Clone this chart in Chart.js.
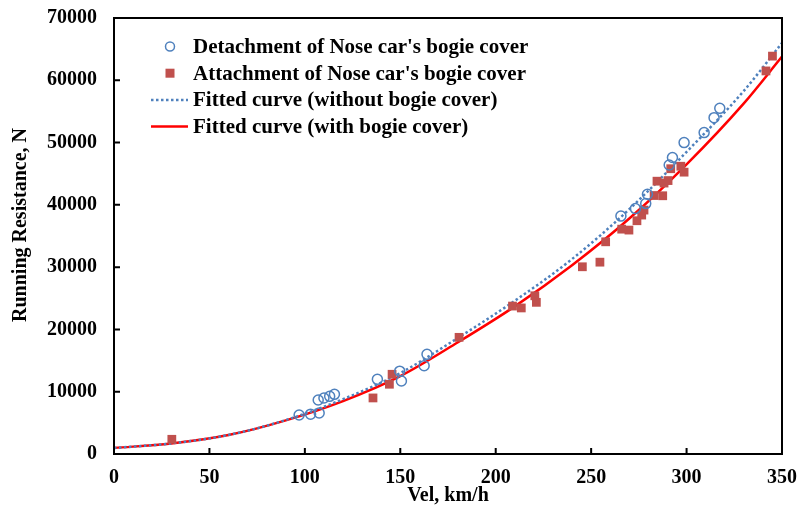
<!DOCTYPE html>
<html>
<head>
<meta charset="utf-8">
<script src="https://cdn.jsdelivr.net/npm/chart.js@4.4.1/dist/chart.umd.min.js"></script>
<style>
  html, body { margin: 0; padding: 0; background: #fff; }
</style>
</head>
<body>
<canvas id="myChart" width="798" height="516"></canvas>
<script>
// points mesures, cache-bogie retire (cercles)
const velDetach = [97, 103, 107.5, 107, 110, 113, 115.5, 138, 149.7, 150.6, 162.5, 164,
                   265.6, 273.2, 278.6, 279.5, 290.9, 292.6, 298.7, 309.2, 314.4, 317.4];
const resDetach = [6260, 6400, 6580, 8670, 8990, 9260, 9580, 11990, 13300, 11720, 14170, 16000,
                   38200, 39400, 40200, 41700, 46400, 47600, 50000, 51600, 54000, 55500];

// points mesures, cache-bogie en place (carres)
const velAttach = [30.3, 135.7, 144.3, 145.7, 180.8, 208.8, 213.4, 220.5, 221.3, 245.4, 254.6, 257.6,
                   266, 269.8, 274, 276.5, 277.7, 283, 287.5, 284.5, 288.2, 290.3, 291.7, 297, 298.7,
                   341.6, 345];
const resAttach = [2360, 9000, 11200, 12800, 18730, 23750, 23450, 25400, 24350, 30060, 30800, 34070,
                   36100, 35950, 37450, 38360, 39160, 41500, 41460, 43800, 43500, 43900, 45800, 46200, 45250,
                   61500, 63880];

// courbes ajustees
const fitVel = [0, 30, 60, 90, 120, 150, 180, 210, 240, 270, 300, 330, 350];
const fitWithout = [960, 1700, 3050, 5450, 8800, 13000, 18600, 24600, 31300, 39300, 48500, 58300, 66000];
const fitWith = [960, 1700, 3050, 5400, 8500, 12500, 17900, 23700, 30300, 37800, 46500, 56300, 63800];

const labels = [
  "Detachment of Nose car's bogie cover",
  "Attachment of Nose car's bogie cover",
  'Fitted curve (without bogie cover)',
  'Fitted curve (with bogie cover)'
];
const yTitle = 'Running Resistance, N';

const BLUE = '#4F81BD';
const DARKRED = '#C0504D';
const FONT = "'Liberation Serif', 'Times New Roman', serif";

const toXY = (xs, ys) => xs.map((v, i) => ({ x: v, y: ys[i] }));

// cadre + graduations vers l'interieur + legende dans la zone du graphe
const framePlugin = {
  id: 'frame',
  afterDraw(chart) {
    const { ctx, chartArea: a, scales } = chart;
    ctx.save();
    ctx.strokeStyle = '#000';
    ctx.lineWidth = 2;
    ctx.strokeRect(a.left, a.top, a.right - a.left, a.bottom - a.top);
    ctx.beginPath();
    scales.x.ticks.forEach(t => {
      const px = scales.x.getPixelForValue(t.value);
      ctx.moveTo(px, a.bottom); ctx.lineTo(px, a.bottom - 6);
    });
    scales.y.ticks.forEach(t => {
      const py = scales.y.getPixelForValue(t.value);
      ctx.moveTo(a.left, py); ctx.lineTo(a.left + 6, py);
    });
    ctx.stroke();

    ctx.font = 'bold 20px ' + FONT;
    ctx.fillStyle = '#000';
    ctx.textAlign = 'center';
    ctx.textBaseline = 'middle';
    // titre axe y (un peu au-dessus du centre, comme l'original)
    ctx.save();
    ctx.translate(21, (a.top + a.bottom) / 2 - 11);
    ctx.rotate(-Math.PI / 2);
    ctx.fillText(yTitle, 0, 0);
    ctx.restore();

    // legende
    const ds = chart.data.datasets;
    const sx = a.left + 56, tx = a.left + 79;
    let y = a.top + 28.5;
    ctx.font = 'bold 21px ' + FONT;
    ctx.textAlign = 'left';
    ds.forEach((d, i) => {
      ctx.save();
      if (i === 0) {
        ctx.strokeStyle = d.borderColor; ctx.lineWidth = d.borderWidth;
        ctx.beginPath(); ctx.arc(sx, y, 4.5, 0, Math.PI * 2); ctx.stroke();
      } else if (i === 1) {
        ctx.fillStyle = d.backgroundColor;
        ctx.fillRect(sx - 4.5, y - 4.5, 9, 9);
      } else {
        ctx.strokeStyle = d.borderColor; ctx.lineWidth = d.borderWidth;
        ctx.setLineDash(d.borderDash || []);
        ctx.lineCap = d.borderCapStyle || 'butt';
        ctx.beginPath(); ctx.moveTo(sx - 19, y); ctx.lineTo(sx + 18, y); ctx.stroke();
      }
      ctx.restore();
      ctx.fillText(d.label, tx, y + 1);
      y += 26.7;
    });
    ctx.restore();
  }
};

const data = {
  datasets: [
    {
      label: labels[0],
      data: toXY(velDetach, resDetach),
      pointStyle: 'circle', pointRadius: 5, pointBorderWidth: 1.5,
      borderColor: BLUE, backgroundColor: 'rgba(0,0,0,0)', borderWidth: 1.5
    },
    {
      label: labels[1],
      data: toXY(velAttach, resAttach),
      pointStyle: 'rect', pointRadius: 6.2, pointBorderWidth: 0,
      borderColor: DARKRED, backgroundColor: DARKRED
    },
    {
      label: labels[2],
      data: toXY(fitVel, fitWithout),
      showLine: true, pointRadius: 0,
      borderColor: BLUE, borderWidth: 2.5, borderDash: [2.5, 2.5],
      cubicInterpolationMode: 'monotone'
    },
    {
      label: labels[3],
      data: toXY(fitVel, fitWith),
      showLine: true, pointRadius: 0,
      borderColor: '#FF0000', borderWidth: 2.5,
      cubicInterpolationMode: 'monotone'
    }
  ]
};

const tickFont = { family: FONT, size: 20, weight: 'bold' };

const config = {
  type: 'scatter',
  data,
  options: {
    responsive: false,
    animation: false,
    layout: { padding: { top: 18, right: 16, bottom: 0, left: 0 } },
    plugins: { legend: { display: false }, tooltip: { enabled: false } },
    scales: {
      x: {
        type: 'linear', min: 0, max: 350,
        ticks: { stepSize: 50, color: '#000', font: tickFont, padding: 12, maxRotation: 0 },
        grid: { display: false, drawTicks: false },
        border: { display: false },
        title: { display: true, text: 'Vel, km/h', color: '#000', font: tickFont, padding: { top: 0, bottom: 8 } },
        afterFit: s => { s.height = 62; s.paddingLeft = 0; s.paddingRight = 0; }
      },
      y: {
        type: 'linear', min: 0, max: 70000,
        ticks: { stepSize: 10000, color: '#000', font: tickFont, padding: 17, callback: v => String(v) },
        grid: { display: false, drawTicks: false },
        border: { display: false },
        title: { display: false },
        afterFit: s => { s.width = 114; s.paddingTop = 0; s.paddingBottom = 0; }
      }
    }
  },
  plugins: [framePlugin]
};

new Chart(document.getElementById('myChart').getContext('2d'), config);
</script>
</body>
</html>
